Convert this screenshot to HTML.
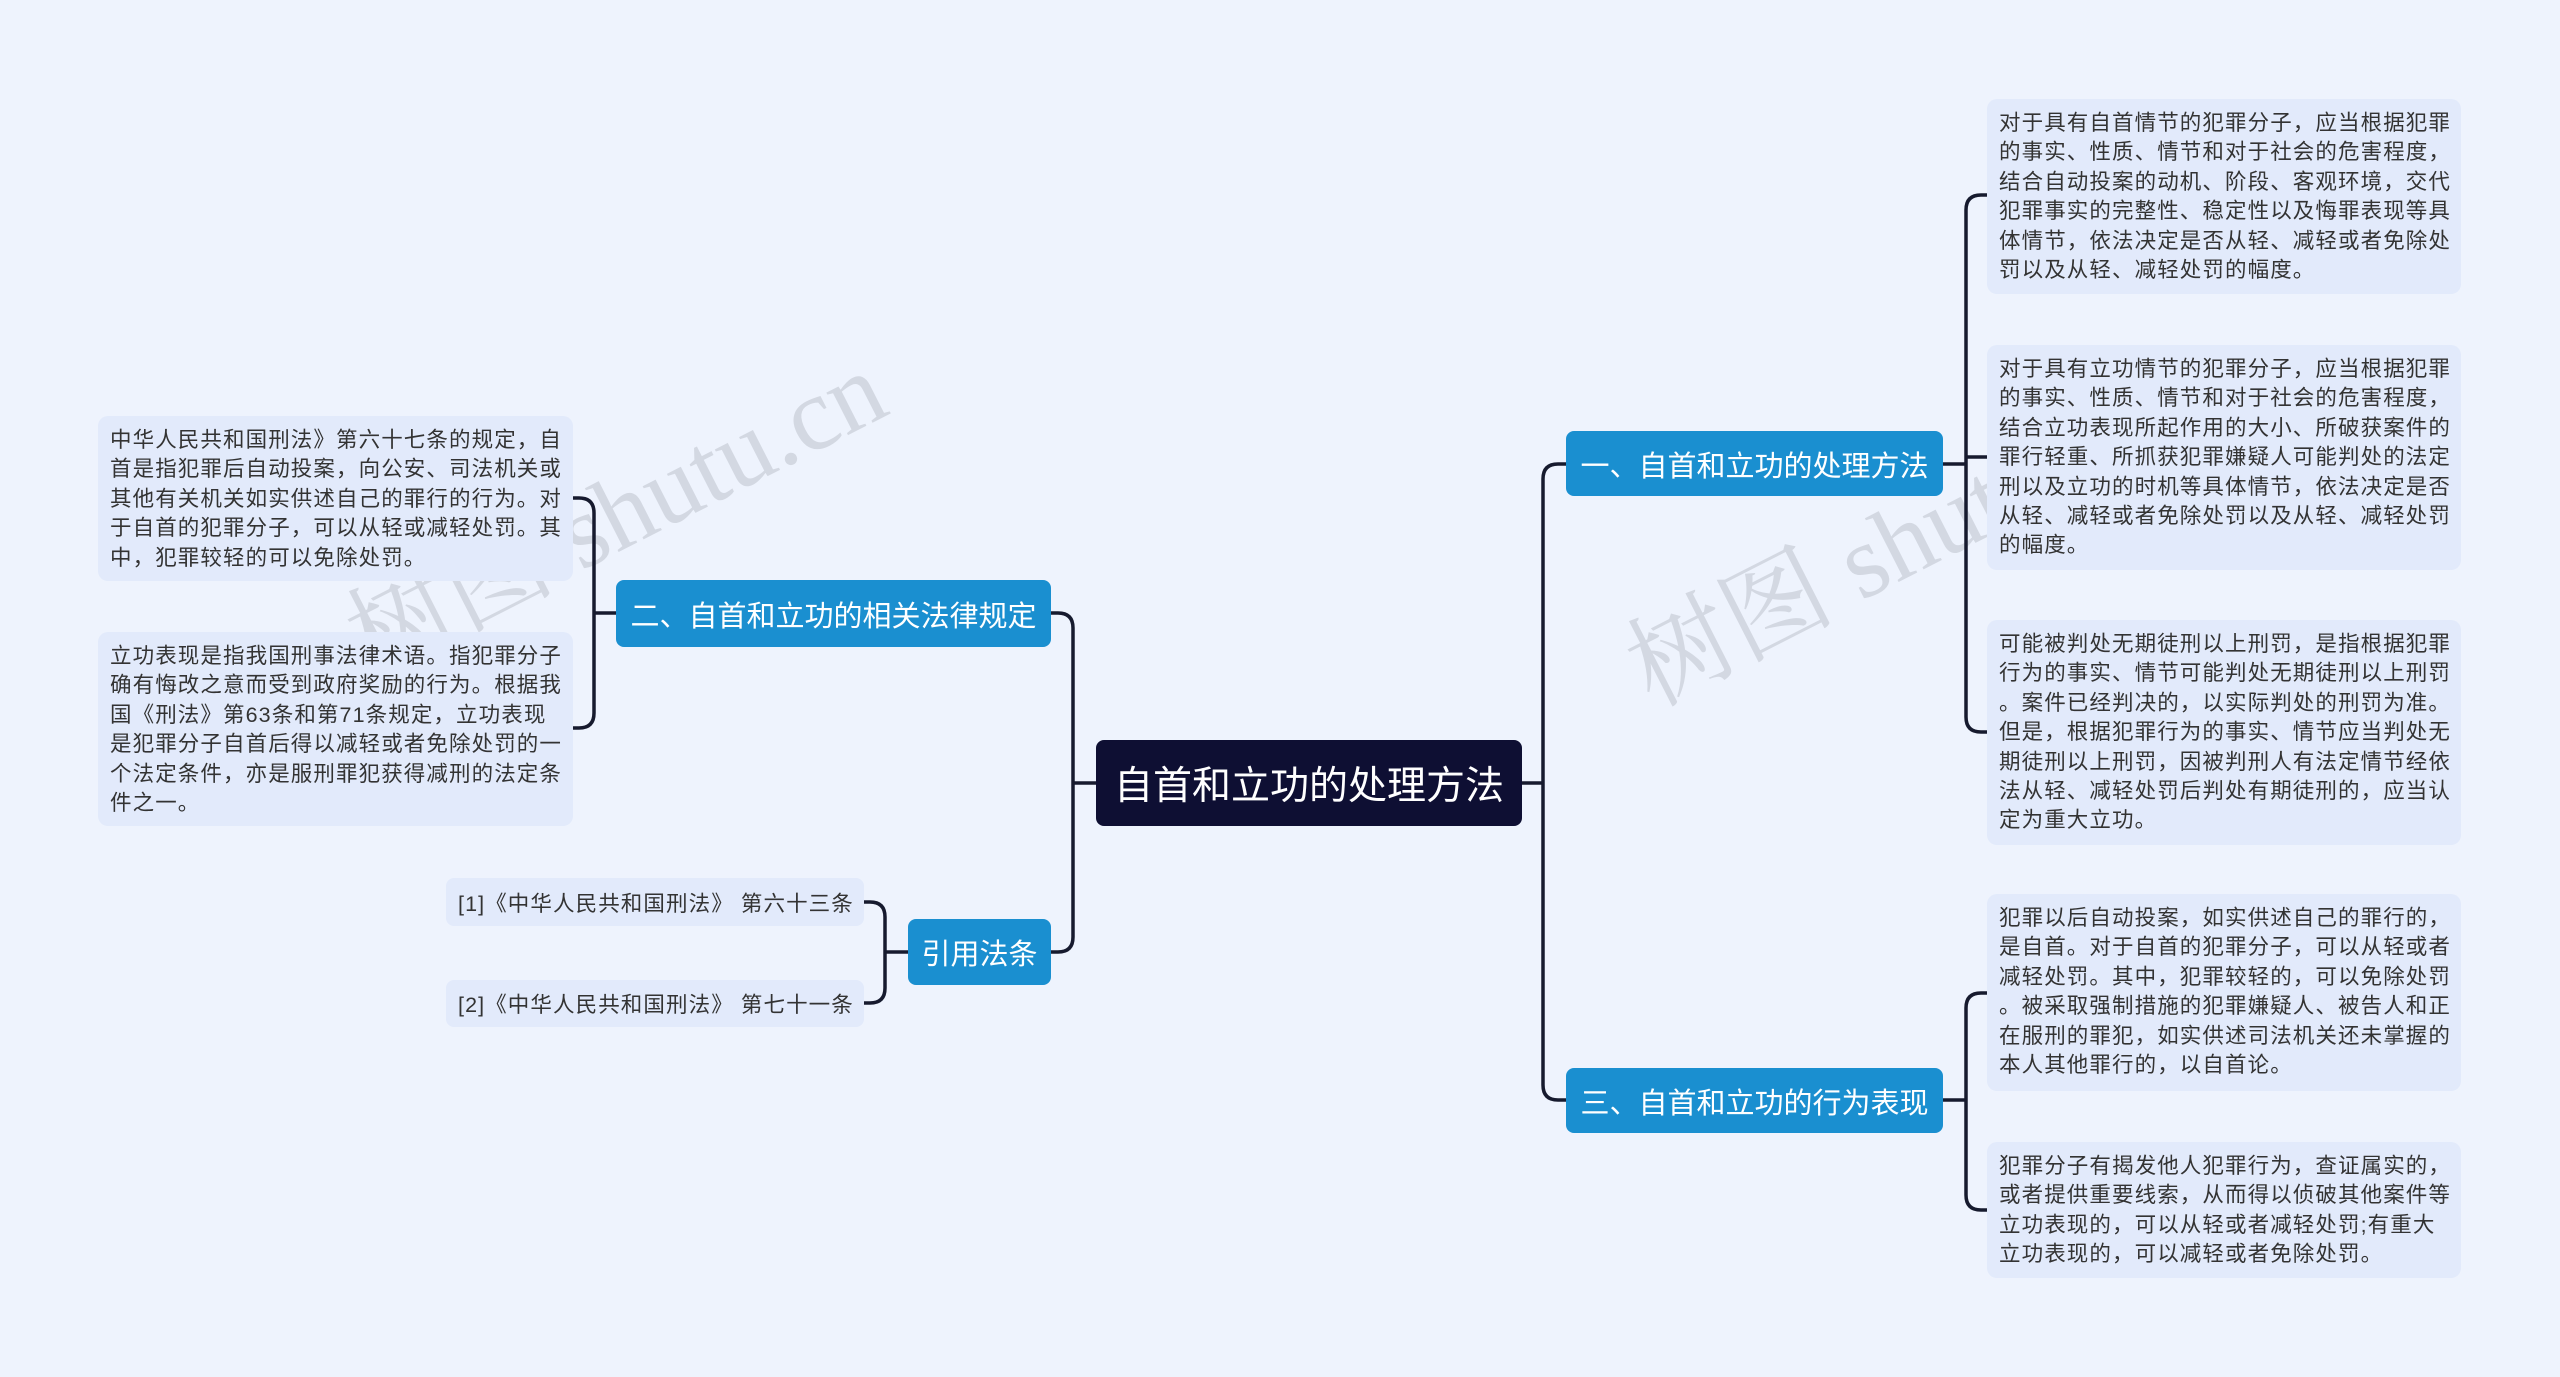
<!DOCTYPE html>
<html><head><meta charset="utf-8"><style>
body{margin:0;width:2560px;height:1377px;background:#eef3fd;position:relative;overflow:hidden;font-family:"Liberation Sans","Noto Sans CJK SC",sans-serif}
.b{position:absolute;box-sizing:border-box;display:flex;align-items:center;justify-content:center;white-space:nowrap}
.c{background:#0e0f33;color:#fff;font-size:39px;border-radius:8px}
.m{background:#1a8fd0;color:#fff;font-size:29px;border-radius:8px}
.l{position:absolute;box-sizing:border-box;background:#e2eafb;border-radius:10px;color:#333;font-size:21.5px;letter-spacing:1.1px;line-height:29.4px;padding:10px 6px 0 12px;white-space:nowrap}
.r{position:absolute;box-sizing:border-box;background:#e2eafb;border-radius:8px;color:#333;font-size:21.5px;letter-spacing:1.1px;display:flex;align-items:center;padding-left:12px;white-space:nowrap}
.w{position:absolute;color:#c9ced8;font-family:"Liberation Serif","Noto Serif CJK SC",serif;font-size:104px;transform:rotate(-27deg);white-space:nowrap;opacity:.7}
</style></head><body>
<div class="w" style="left:320px;top:430px">树图 shutu.cn</div>
<div class="w" style="left:1600px;top:460px">树图 shutu.cn</div>
<svg width="2560" height="1377" style="position:absolute;left:0;top:0" fill="none" stroke="#161a2e" stroke-width="3.5">
<path d="M1522 783 H1543 M1566 464 H1558 Q1543 464 1543 479 V1085 Q1543 1100 1558 1100 H1566"/>
<path d="M1943 464 H1966 M1987 195 H1981 Q1966 195 1966 210 V717 Q1966 732 1981 732 H1987 M1966 457 H1987"/>
<path d="M1943 1100 H1966 M1987 993 H1981 Q1966 993 1966 1008 V1195 Q1966 1210 1981 1210 H1987"/>
<path d="M1096 783 H1073 M1051 613 H1058 Q1073 613 1073 628 V937 Q1073 952 1058 952 H1051"/>
<path d="M616 613 H594 M573 498 H579 Q594 498 594 513 V713 Q594 728 579 728 H573"/>
<path d="M908 952 H885 M864 902 H870 Q885 902 885 917 V988 Q885 1003 870 1003 H864"/>
</svg>
<div class="b c" style="left:1096px;top:740px;width:426px;height:86px">自首和立功的处理方法</div>
<div class="b m" style="left:1566px;top:431px;width:377px;height:65px">一、自首和立功的处理方法</div>
<div class="b m" style="left:1566px;top:1068px;width:377px;height:65px">三、自首和立功的行为表现</div>
<div class="b m" style="left:616px;top:580px;width:435px;height:67px">二、自首和立功的相关法律规定</div>
<div class="b m" style="left:908px;top:919px;width:143px;height:66px">引用法条</div>
<div class="l" style="left:1987px;top:99px;width:474px;height:195px">对于具有自首情节的犯罪分子，应当根据犯罪<br>的事实、性质、情节和对于社会的危害程度，<br>结合自动投案的动机、阶段、客观环境，交代<br>犯罪事实的完整性、稳定性以及悔罪表现等具<br>体情节，依法决定是否从轻、减轻或者免除处<br>罚以及从轻、减轻处罚的幅度。</div>
<div class="l" style="left:1987px;top:345px;width:474px;height:225px">对于具有立功情节的犯罪分子，应当根据犯罪<br>的事实、性质、情节和对于社会的危害程度，<br>结合立功表现所起作用的大小、所破获案件的<br>罪行轻重、所抓获犯罪嫌疑人可能判处的法定<br>刑以及立功的时机等具体情节，依法决定是否<br>从轻、减轻或者免除处罚以及从轻、减轻处罚<br>的幅度。</div>
<div class="l" style="left:1987px;top:620px;width:474px;height:225px">可能被判处无期徒刑以上刑罚，是指根据犯罪<br>行为的事实、情节可能判处无期徒刑以上刑罚<br>。案件已经判决的，以实际判处的刑罚为准。<br>但是，根据犯罪行为的事实、情节应当判处无<br>期徒刑以上刑罚，因被判刑人有法定情节经依<br>法从轻、减轻处罚后判处有期徒刑的，应当认<br>定为重大立功。</div>
<div class="l" style="left:1987px;top:894px;width:474px;height:197px">犯罪以后自动投案，如实供述自己的罪行的，<br>是自首。对于自首的犯罪分子，可以从轻或者<br>减轻处罚。其中，犯罪较轻的，可以免除处罚<br>。被采取强制措施的犯罪嫌疑人、被告人和正<br>在服刑的罪犯，如实供述司法机关还未掌握的<br>本人其他罪行的，以自首论。</div>
<div class="l" style="left:1987px;top:1142px;width:474px;height:136px">犯罪分子有揭发他人犯罪行为，查证属实的，<br>或者提供重要线索，从而得以侦破其他案件等<br>立功表现的，可以从轻或者减轻处罚;有重大<br>立功表现的，可以减轻或者免除处罚。</div>
<div class="l" style="left:98px;top:416px;width:475px;height:165px">中华人民共和国刑法》第六十七条的规定，自<br>首是指犯罪后自动投案，向公安、司法机关或<br>其他有关机关如实供述自己的罪行的行为。对<br>于自首的犯罪分子，可以从轻或减轻处罚。其<br>中，犯罪较轻的可以免除处罚。</div>
<div class="l" style="left:98px;top:632px;width:475px;height:194px">立功表现是指我国刑事法律术语。指犯罪分子<br>确有悔改之意而受到政府奖励的行为。根据我<br>国《刑法》第63条和第71条规定，立功表现<br>是犯罪分子自首后得以减轻或者免除处罚的一<br>个法定条件，亦是服刑罪犯获得减刑的法定条<br>件之一。</div>
<div class="r" style="left:446px;top:878px;width:418px;height:48px">[1]《中华人民共和国刑法》 第六十三条</div>
<div class="r" style="left:446px;top:980px;width:418px;height:47px">[2]《中华人民共和国刑法》 第七十一条</div>
</body></html>
